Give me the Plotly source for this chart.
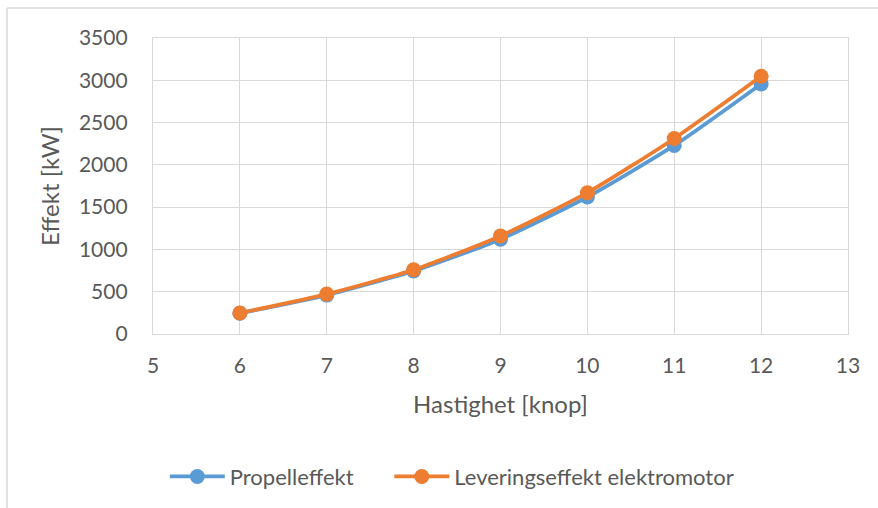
import plotly.graph_objects as go

# Speed in knots and power in kW
speed_knots = [6, 7, 8, 9, 10, 11, 12]
propeller_power = [245, 460, 745, 1121, 1620, 2230, 2957]
motor_delivered_power = [248, 472, 759, 1160, 1671, 2312, 3047]

x_ticks = [5, 6, 7, 8, 9, 10, 11, 12, 13]
y_ticks = [0, 500, 1000, 1500, 2000, 2500, 3000, 3500]

BLUE = "#5B9BD5"
ORANGE = "#ED7D31"
GRID = "#D9D9D9"
TEXT = "#595959"
FONT = "Lato"

fig = go.Figure()
fig.add_trace(go.Scatter(
    x=speed_knots, y=propeller_power, name="Propelleffekt",
    mode="lines+markers", line=dict(color=BLUE, width=3.8, shape="spline", smoothing=0.6),
    marker=dict(size=15, color=BLUE), legend="legend",
))
fig.add_trace(go.Scatter(
    x=speed_knots, y=motor_delivered_power, name="Leveringseffekt elektromotor",
    mode="lines+markers", line=dict(color=ORANGE, width=3.8, shape="spline", smoothing=0.6),
    marker=dict(size=15, color=ORANGE), legend="legend2",
))

legend_style = dict(
    orientation="h", xanchor="left", y=-0.477, yanchor="middle",
    font=dict(size=22, color=TEXT), itemwidth=55, bgcolor="rgba(0,0,0,0)",
)

fig.update_layout(
    width=878, height=508,
    margin=dict(l=153, r=30, t=38, b=173),
    paper_bgcolor="white", plot_bgcolor="white",
    font=dict(family=FONT, color=TEXT, size=20),
    showlegend=True,
    legend=dict(x=0.017, **legend_style),
    legend2=dict(x=0.340, **legend_style),
    xaxis=dict(
        range=[5, 13], tickvals=x_ticks, showgrid=True, gridcolor=GRID, gridwidth=1.3,
        zeroline=False, showline=True, linecolor=GRID, linewidth=1.3, mirror=True,
        ticks="", ticklabelstandoff=13, tickfont=dict(size=21),
        title=dict(text="Hastighet [knop]", font=dict(size=24, color=TEXT), standoff=19),
    ),
    yaxis=dict(
        range=[0, 3500], tickvals=y_ticks, showgrid=True, gridcolor=GRID, gridwidth=1.3,
        zeroline=False, showline=True, linecolor=GRID, linewidth=1.3, mirror=True,
        ticks="", ticklabelstandoff=20, tickfont=dict(size=21),
        title=dict(text="Effekt [kW]", font=dict(size=24, color=TEXT), standoff=12),
    ),
)

# Chart-area border (top and left edges visible)
fig.add_shape(type="line", xref="paper", yref="paper",
              x0=-0.21, x1=1.1, y0=1.101, y1=1.101,
              line=dict(color="#D9D9D9", width=1.5))
fig.add_shape(type="line", xref="paper", yref="paper",
              x0=-0.21, x1=-0.21, y0=1.101, y1=-0.7,
              line=dict(color="#D9D9D9", width=1.5))

fig.write_html("out.html")
